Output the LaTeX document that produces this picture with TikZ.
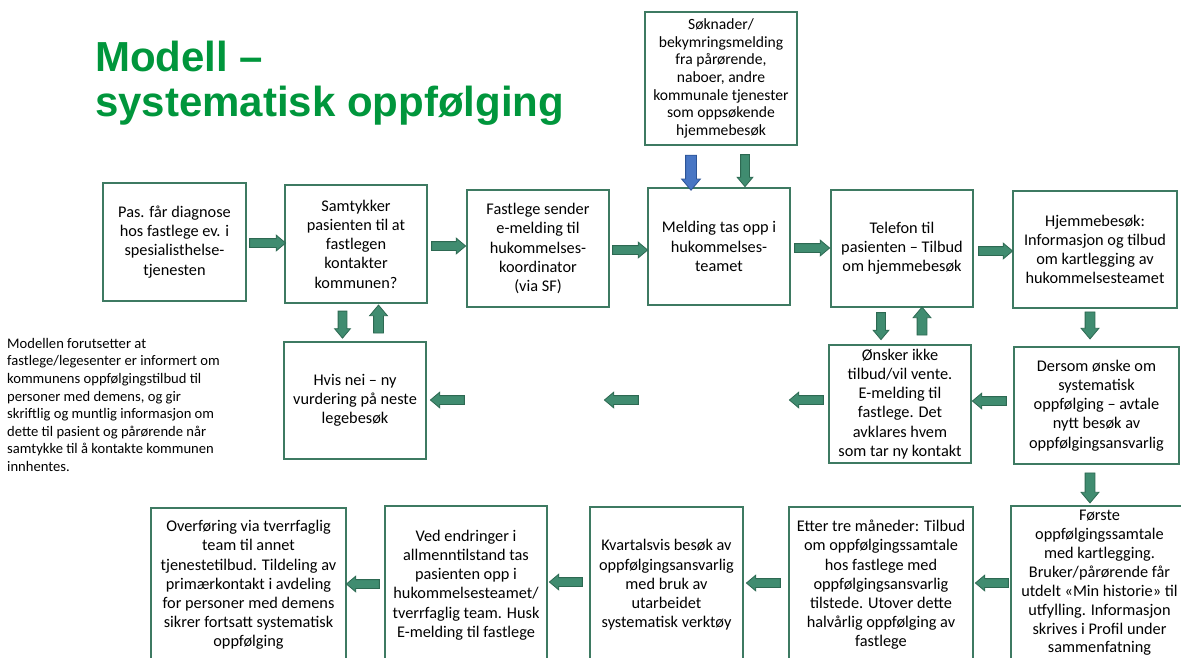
\documentclass[tikz,border=0pt]{standalone}
\usepackage{fontspec}
\setmainfont{Carlito}
\newfontfamily\titlefont{Liberation Sans}
\usetikzlibrary{shapes.arrows}
\definecolor{titlegreen}{RGB}{0,150,60}
\definecolor{boxline}{RGB}{62,122,98}
\definecolor{arrowfill}{RGB}{64,140,112}
\definecolor{arrowline}{RGB}{45,105,82}
\definecolor{bluefill}{RGB}{72,118,196}
\definecolor{blueline}{RGB}{44,84,150}
\tikzset{
  box/.style={draw=boxline, line width=1.2pt, fill=white, rectangle, align=center, inner sep=2pt,
    font=\fontsize{16.3}{19.2}\selectfont},
  barrow/.style={single arrow, draw=arrowline, fill=arrowfill, line width=0.8pt,
    inner xsep=0pt, inner ysep=4pt, single arrow head extend=3.5pt,
    single arrow tip angle=80, minimum height=35pt},
  rarrow/.style={barrow},
  larrow/.style={barrow, rotate=180},
  darrow/.style={barrow, rotate=-90, minimum height=27pt},
  uarrow/.style={barrow, rotate=90, minimum height=28pt, inner ysep=4.5pt, single arrow head extend=4pt},
}
\begin{document}
\begin{tikzpicture}[x=1pt,y=-1pt]
\useasboundingbox (0,0) rectangle (1181,657);
\clip (0,0) rectangle (1181,657);
\fill[white] (0,0) rectangle (1181,657);

% title
\node[anchor=north west, inner sep=0pt, align=left, text=titlegreen,
  font=\titlefont\bfseries\fontsize{42}{45}\selectfont] (title) at (95,41)
  {Modell –\\systematisk oppfølging};

% left note
\node[anchor=north west, inner sep=0pt, align=left, font=\fontsize{14.6}{17.6}\selectfont] (note) at (7,338)
  {Modellen forutsetter at\\fastlege/legesenter er informert om\\kommunens oppfølgingstilbud til\\personer med demens, og gir\\skriftlig og muntlig informasjon om\\dette til pasient og pårørende når\\samtykke til å kontakte kommunen\\innhentes.};

% boxes
\node[box, minimum width=152pt, minimum height=133pt, font=\fontsize{15.6}{17.7}\selectfont] (top) at (721,78.5)
  {Søknader/\\bekymringsmelding\\fra pårørende,\\naboer, andre\\kommunale tjenester\\som oppsøkende\\hjemmebesøk};
\node[box, minimum width=143pt, minimum height=118pt] (b1) at (174.5,242)
  {Pas. får diagnose\\hos fastlege ev. i\\spesialisthelse-\\tjenesten};
\node[box, minimum width=142pt, minimum height=118pt] (b2) at (356,244)
  {Samtykker\\pasienten til at\\fastlegen\\kontakter\\kommunen?};
\node[box, minimum width=142pt, minimum height=117pt] (b3) at (538,248.5)
  {Fastlege sender\\e-melding til\\hukommelses-\\koordinator\\(via SF)};
\node[box, minimum width=142pt, minimum height=117pt] (b4) at (719,246.5)
  {Melding tas opp i\\hukommelses-\\teamet};
\node[box, minimum width=142pt, minimum height=117pt] (b5) at (902,248.5)
  {Telefon til\\pasienten – Tilbud\\om hjemmebesøk};
\node[box, minimum width=164pt, minimum height=117pt] (b6) at (1095,249.5)
  {Hjemmebesøk:\\Informasjon og tilbud\\om kartlegging av\\hukommelsesteamet};
\node[box, minimum width=142pt, minimum height=117pt] (hvis) at (355,400.5)
  {Hvis nei – ny\\vurdering på neste\\legebesøk};
\node[box, minimum width=142pt, minimum height=118pt] (onsk) at (900,404)
  {Ønsker ikke\\tilbud/vil vente.\\E-melding til\\fastlege. Det\\avklares hvem\\som tar ny kontakt};
\node[box, minimum width=165pt, minimum height=117pt] (ders) at (1096.5,405.5)
  {Dersom ønske om\\systematisk\\oppfølging – avtale\\nytt besøk av\\oppfølgingsansvarlig};
\node[box, minimum width=195pt, minimum height=154pt] (over) at (248.5,585)
  {Overføring via tverrfaglig\\team til annet\\tjenestetilbud. Tildeling av\\primærkontakt i avdeling\\for personer med demens\\sikrer fortsatt systematisk\\oppfølging};
\node[box, minimum width=162pt, minimum height=158pt] (ved) at (466,585)
  {Ved endringer i\\allmenntilstand tas\\pasienten opp i\\hukommelsesteamet/\\tverrfaglig team. Husk\\E-melding til fastlege};
\node[box, minimum width=153pt, minimum height=156pt] (kvart) at (666.5,585)
  {Kvartalsvis besøk av\\oppfølgingsansvarlig\\med bruk av\\utarbeidet\\systematisk verktøy};
\node[box, minimum width=184pt, minimum height=156pt] (etter) at (881,585)
  {Etter tre måneder: Tilbud\\om oppfølgingssamtale\\hos fastlege med\\oppfølgingsansvarlig\\tilstede. Utover dette\\halvårlig oppfølging av\\fastlege};
\node[box, minimum width=177pt, minimum height=154pt, font=\fontsize{16.3}{18.9}\selectfont] (forste) at (1099.5,583)
  {Første\\oppfølgingssamtale\\med kartlegging.\\Bruker/pårørende får\\utdelt «Min historie» til\\utfylling. Informasjon\\skrives i Profil under\\sammenfatning};

% block arrows
\node[barrow, rotate=-90, minimum height=35pt, inner ysep=5pt, single arrow head extend=4pt,
  fill=bluefill, draw=blueline] (ab) at (691,169.5) {};
\node[darrow, minimum height=32pt] (a0) at (745,168) {};
\node[rarrow, minimum height=36pt] (a1) at (265,243) {};
\node[rarrow, minimum height=34pt] (a2) at (446,246) {};
\node[rarrow, minimum height=35pt] (a3) at (627.5,250) {};
\node[rarrow, minimum height=35pt] (a4) at (809.5,248) {};
\node[rarrow, minimum height=34pt] (a5) at (993,251) {};
\node[darrow] (d1) at (342.5,322) {};
\node[uarrow] (u1) at (378.5,322) {};
\node[darrow] (d2) at (881,323.5) {};
\node[uarrow] (u2) at (922,324) {};
\node[darrow, inner ysep=4.5pt, single arrow head extend=4pt] (d3) at (1090,322.5) {};
\node[larrow, minimum height=34pt] (l1) at (992,401) {};
\node[larrow, minimum height=34pt] (l2) at (809,400) {};
\node[larrow, minimum height=34pt] (l3) at (624,400) {};
\node[larrow, minimum height=34pt] (l4) at (450,400) {};
\node[darrow, minimum height=30pt, inner ysep=4.5pt, single arrow head extend=4pt] (d4) at (1090,485) {};
\node[larrow, minimum height=33pt] (l5) at (994.5,583) {};
\node[larrow, minimum height=34pt] (l6) at (766,583) {};
\node[larrow, minimum height=33pt] (l7) at (568.5,582) {};
\node[larrow, minimum height=33pt] (l8) at (365.5,584) {};
\end{tikzpicture}
\end{document}
